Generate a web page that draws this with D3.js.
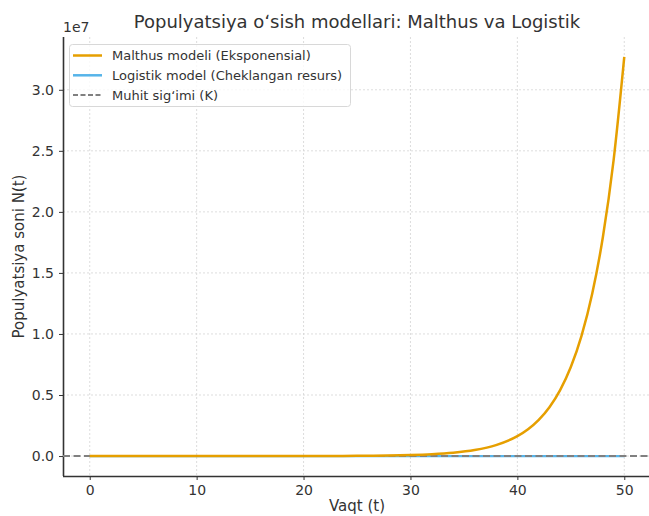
<!DOCTYPE html>
<html>
<head>
<meta charset="utf-8">
<script src="https://cdn.jsdelivr.net/npm/d3@7"></script>
<style>
  body { margin: 0; background: #fff; }
  text { font-family: "DejaVu Sans", sans-serif; fill: #333; }
</style>
</head>
<body>
<div id="chart"></div>
<script>
// values
const tMalthus = [0, 5, 10, 15, 20, 25, 30, 32, 34, 36, 38, 40, 41, 42, 43, 44, 45, 46, 47, 48, 49, 50];
const nMalthus = [10, 45, 200, 900, 4030, 18100, 81000, 147600, 269000, 490000, 893000, 1628000, 2197000,
    2966000, 4003000, 5404000, 7294000, 9846000, 13290000, 17940000, 24220000, 32690000];
const tLogistic = [0, 10, 20, 30, 40, 50];
const nLogistic = [10, 170, 800, 985, 999, 1000];
const K = 1000;
const xTicks = [0, 10, 20, 30, 40, 50];
const yTicks = [0, 0.5e7, 1e7, 1.5e7, 2e7, 2.5e7, 3e7];
const legendLabels = ["Malthus modeli (Eksponensial)", "Logistik model (Cheklangan resurs)", "Muhit sig\u02BBimi (K)"];

const width = 649, height = 516;
const mLeft = 63, mRight = 651, mTop = 37, mBottom = 476;

const svg = d3.select("#chart").append("svg").attr("width", width).attr("height", height);

const xScale = d3.scaleLinear().domain([-2.5, 52.5]).range([mLeft, mRight]);
const yMax = 32690000;
const pad = yMax * 0.05;
const yScale = d3.scaleLinear().domain([-pad, yMax + pad]).range([mBottom, mTop]);

// grid
svg.append("g").selectAll("line").data(xTicks).enter().append("line")
    .attr("x1", (d) => xScale(d)).attr("x2", (d) => xScale(d))
    .attr("y1", mTop).attr("y2", mBottom)
    .attr("stroke", "#d4d4d4").attr("stroke-width", 0.8).attr("stroke-dasharray", "2,2");
svg.append("g").selectAll("line").data(yTicks).enter().append("line")
    .attr("x1", mLeft).attr("x2", mRight)
    .attr("y1", (d) => yScale(d)).attr("y2", (d) => yScale(d))
    .attr("stroke", "#d4d4d4").attr("stroke-width", 0.8).attr("stroke-dasharray", "2,2");

// axes
const xAxis = d3.axisBottom(xScale).tickValues(xTicks).tickSize(4).tickPadding(5).tickFormat(d3.format("d"));
const yAxis = d3.axisLeft(yScale).tickValues(yTicks).tickSize(4).tickPadding(5).tickFormat((d) => (d / 1e7).toFixed(1));

const gx = svg.append("g").attr("transform", `translate(0,${mBottom})`).call(xAxis);
const gy = svg.append("g").attr("transform", `translate(${mLeft},0)`).call(yAxis);
gx.select(".domain").attr("d", `M${mLeft},0.5H${mRight}`);
gy.select(".domain").attr("d", `M0.5,${mTop}V${mBottom}`);
[gx, gy].forEach((g) => {
    g.select(".domain").attr("stroke", "#333").attr("stroke-width", 1.6);
    g.selectAll(".tick line").attr("stroke", "#333").attr("stroke-width", 1);
    g.selectAll(".tick text").attr("font-size", 14).attr("fill", "#333").attr("font-family", "DejaVu Sans");
});

// lines
svg.append("clipPath").attr("id", "clip").append("rect")
    .attr("x", mLeft).attr("y", mTop).attr("width", mRight - mLeft).attr("height", mBottom - mTop);

const line = d3.line().x((d) => xScale(d[0])).y((d) => yScale(d[1])).curve(d3.curveMonotoneX);

svg.append("path")
    .datum(tLogistic.map((t, i) => [t, nLogistic[i]]))
    .attr("d", line).attr("fill", "none")
    .attr("stroke", "#56B4E9").attr("stroke-width", 2.2)
    .attr("clip-path", "url(#clip)");

// K dashes lie over the logistic line
svg.append("line")
    .attr("x1", mLeft).attr("x2", mRight)
    .attr("y1", yScale(K)).attr("y2", yScale(K))
    .attr("stroke", "#808080").attr("stroke-width", 2).attr("stroke-dasharray", "7,3.5");

svg.append("path")
    .datum(tMalthus.map((t, i) => [t, nMalthus[i]]))
    .attr("d", line).attr("fill", "none")
    .attr("stroke", "#E69F00").attr("stroke-width", 2.5)
    .attr("clip-path", "url(#clip)");

// texts
svg.append("text").attr("x", 357).attr("y", 28).attr("text-anchor", "middle")
    .attr("font-size", 18).text("Populyatsiya o\u02BBsish modellari: Malthus va Logistik");
svg.append("text").attr("x", mLeft).attr("y", 32).attr("font-size", 14).text("1e7");
svg.append("text").attr("x", 357).attr("y", 511).attr("text-anchor", "middle")
    .attr("font-size", 15).text("Vaqt (t)");
svg.append("text").attr("transform", `translate(24,${(mTop + mBottom) / 2}) rotate(-90)`)
    .attr("text-anchor", "middle").attr("font-size", 15).text("Populyatsiya soni N(t)");

// legend
const lg = svg.append("g");
lg.append("rect").attr("x", 69.5).attr("y", 44.5).attr("width", 281).attr("height", 62).attr("rx", 3)
    .attr("fill", "rgba(255,255,255,0.8)").attr("stroke", "#d8d8d8");
const legendColors = ["#E69F00", "#56B4E9", "#808080"];
const legendDash = [null, null, "5,2.5"];
legendLabels.forEach((lab, i) => {
    const y = 55.5 + i * 19.8;
    lg.append("line").attr("x1", 73).attr("x2", 102).attr("y1", y).attr("y2", y)
        .attr("stroke", legendColors[i]).attr("stroke-width", i === 2 ? 2 : 2.5)
        .attr("stroke-dasharray", legendDash[i]);
    lg.append("text").attr("x", 112).attr("y", y + 4.7).attr("font-size", 13).text(lab);
});
</script>
</body>
</html>
